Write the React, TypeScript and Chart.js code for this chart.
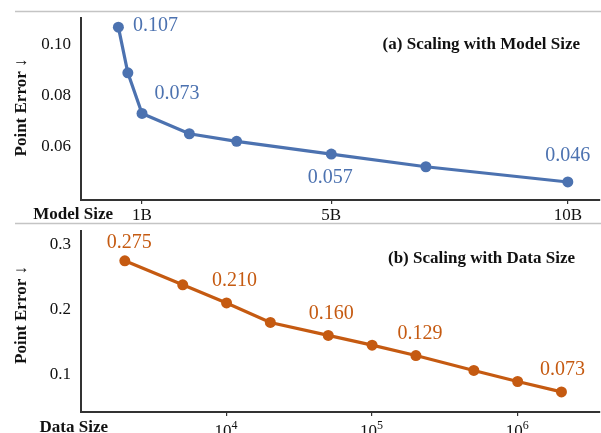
import React, { useEffect, useRef } from "react";
import { Chart, registerables } from "chart.js";
Chart.register(...registerables);

// ---- Data ----
const modelSizes = [0.5, 0.7, 1, 2, 3, 5, 7, 10];
const modelErrors = [0.107, 0.089, 0.073, 0.065, 0.062, 0.057, 0.052, 0.046];
const modelTicks = [1, 5, 10];
const modelTickLabels = ["1B", "5B", "10B"];
const modelErrorTicks = [0.06, 0.08, 0.1];
const modelErrorTickLabels = ["0.06", "0.08", "0.10"];
const modelLabelIdx = [0, 2, 5, 7];

const dataSizes = [2e3, 5e3, 1e4, 2e4, 5e4, 1e5, 2e5, 5e5, 1e6, 2e6];
const dataErrors = [0.275, 0.238, 0.21, 0.18, 0.16, 0.145, 0.129, 0.106, 0.089, 0.073];
const dataTicks = [1e4, 1e5, 1e6];
const dataTickBase = "10";
const dataTickExponents = ["4", "5", "6"];
const dataErrorTicks = [0.1, 0.2, 0.3];
const dataErrorTickLabels = ["0.1", "0.2", "0.3"];
const dataLabelIdx = [0, 2, 4, 6, 9];

// ---- Styles / layout ----
const SERIF = '"Liberation Serif", "Times New Roman", serif';
const BLUE = "#4C72B0";
const ORANGE = "#C55A11";
const AXIS = "#333333";

type Panel = {
  xs: number[];
  ys: number[];
  color: string;
  xType: "linear" | "logarithmic";
  xMin: number;
  xMax: number;
  xTicks: number[];
  xTickLabels: string[] | null;
  xTickExp: string[] | null;
  yMin: number;
  yMax: number;
  yTicks: number[];
  yTickLabels: string[];
  labelIdx: number[];
  labelOffsets: [number, number][];
  title: string;
  titleX: number;
  titleY: number;
  xName: string;
  xNameX: number;
  xNameY: number;
  yTitleY: number;
  sepY: number;
  padTop: number;
  xAxisH: number;
};

const panels: Panel[] = [
  {
    xs: modelSizes,
    ys: modelErrors,
    color: BLUE,
    xType: "linear",
    xMin: -0.29,
    xMax: 10.68,
    xTicks: modelTicks,
    xTickLabels: modelTickLabels,
    xTickExp: null,
    yMin: 0.0389,
    yMax: 0.1106,
    yTicks: modelErrorTicks,
    yTickLabels: modelErrorTickLabels,
    labelIdx: modelLabelIdx,
    labelOffsets: [
      [37, -1.5],
      [35, -20],
      [-1, 23.5],
      [0, -26.5],
    ],
    title: "(a) Scaling with Model Size",
    titleX: 580,
    titleY: 45,
    xName: "Model Size",
    xNameX: 113,
    xNameY: 219,
    yTitleY: 107.5,
    sepY: 11.5,
    padTop: 18,
    xAxisH: 22,
  },
  {
    xs: dataSizes,
    ys: dataErrors,
    color: ORANGE,
    xType: "logarithmic",
    xMin: 1000,
    xMax: 3.68e6,
    xTicks: dataTicks,
    xTickLabels: null,
    xTickExp: dataTickExponents,
    yMin: 0.042,
    yMax: 0.3209,
    yTicks: dataErrorTicks,
    yTickLabels: dataErrorTickLabels,
    labelIdx: dataLabelIdx,
    labelOffsets: [
      [4.5, -18],
      [8, -22.5],
      [3, -21.5],
      [4, -22],
      [1, -22.5],
    ],
    title: "(b) Scaling with Data Size",
    titleX: 575,
    titleY: 36.5,
    xName: "Data Size",
    xNameX: 108,
    xNameY: 210,
    yTitleY: 93,
    sepY: 1.5,
    padTop: 9,
    xAxisH: 21,
  },
];

function makeChart(canvas: HTMLCanvasElement, p: Panel) {
  const deco = {
    id: "deco" + p.title,
    afterDraw(chart: any) {
      const ctx = chart.ctx as CanvasRenderingContext2D;
      const xs = chart.scales.x;
      const ys = chart.scales.y;
      ctx.save();
      // separator line
      ctx.strokeStyle = "#c4c4c4";
      ctx.lineWidth = 1.5;
      ctx.beginPath();
      ctx.moveTo(15, p.sepY);
      ctx.lineTo(601, p.sepY);
      ctx.stroke();
      // title
      ctx.fillStyle = "#111";
      ctx.font = `bold 17px ${SERIF}`;
      ctx.textAlign = "right";
      ctx.textBaseline = "middle";
      ctx.fillText(p.title, p.titleX, p.titleY);
      // x name
      ctx.textBaseline = "alphabetic";
      ctx.fillText(p.xName, p.xNameX, p.xNameY);
      // y title
      ctx.save();
      ctx.translate(22, p.yTitleY);
      ctx.rotate(-Math.PI / 2);
      ctx.textAlign = "center";
      ctx.textBaseline = "middle";
      ctx.fillText("Point Error \u2193", 0, 0);
      ctx.restore();
      // power-of-ten tick labels
      if (p.xTickExp) {
        ctx.fillStyle = "#111";
        ctx.textAlign = "left";
        ctx.textBaseline = "alphabetic";
        const baseY = xs.top + 24;
        p.xTicks.forEach((v, i) => {
          const px = xs.getPixelForValue(v);
          ctx.font = `17px ${SERIF}`;
          const w1 = ctx.measureText(dataTickBase).width;
          ctx.font = `12px ${SERIF}`;
          const w2 = ctx.measureText(p.xTickExp![i]).width;
          const x0 = px - (w1 + w2) / 2 - 0.5;
          ctx.font = `17px ${SERIF}`;
          ctx.fillText(dataTickBase, x0, baseY);
          ctx.font = `12px ${SERIF}`;
          ctx.fillText(p.xTickExp![i], x0 + w1, baseY - 7);
        });
      }
      // value annotations
      ctx.fillStyle = p.color;
      ctx.font = `20px ${SERIF}`;
      ctx.textAlign = "center";
      ctx.textBaseline = "middle";
      p.labelIdx.forEach((i, k) => {
        const px = xs.getPixelForValue(p.xs[i]);
        const py = ys.getPixelForValue(p.ys[i]);
        const [dx, dy] = p.labelOffsets[k];
        ctx.fillText(p.ys[i].toFixed(3), px + dx, py + dy);
      });
      ctx.restore();
    },
  };

  return new Chart(canvas, {
    type: "line",
    data: {
      datasets: [
        {
          data: p.xs.map((x, i) => ({ x, y: p.ys[i] })),
          borderColor: p.color,
          backgroundColor: p.color,
          borderWidth: 3.2,
          pointRadius: 5.5,
          pointHoverRadius: 5.5,
          pointBorderWidth: 0,
          tension: 0,
        },
      ],
    },
    options: {
      responsive: false,
      animation: false,
      devicePixelRatio: 1,
      layout: {
        autoPadding: false,
        padding: { left: 0, right: 1, top: p.padTop, bottom: 0 },
      },
      plugins: { legend: { display: false }, tooltip: { enabled: false } },
      scales: {
        x: {
          type: p.xType,
          min: p.xMin,
          max: p.xMax,
          afterBuildTicks: (s: any) => {
            s.ticks = p.xTicks.map((v) => ({ value: v }));
          },
          afterFit: (s: any) => {
            s.height = p.xAxisH;
            s.paddingLeft = 0;
            s.paddingRight = 0;
            s.paddingTop = 0;
            s.paddingBottom = 0;
          },
          grid: {
            drawOnChartArea: false,
            drawTicks: true,
            tickLength: 4,
            color: AXIS,
            lineWidth: 1.2,
          },
          border: { color: AXIS, width: 2 },
          ticks: {
            display: !!p.xTickLabels,
            autoSkip: false,
            maxRotation: 0,
            padding: 1,
            color: "#111",
            font: { family: SERIF, size: 17 },
            callback: (_v: any, i: number) => (p.xTickLabels ? p.xTickLabels[i] : ""),
          },
        },
        y: {
          type: "linear",
          min: p.yMin,
          max: p.yMax,
          afterBuildTicks: (s: any) => {
            s.ticks = p.yTicks.map((v) => ({ value: v }));
          },
          afterFit: (s: any) => {
            s.width = 81;
            s.paddingLeft = 0;
            s.paddingRight = 0;
            s.paddingTop = 0;
            s.paddingBottom = 0;
          },
          grid: { drawOnChartArea: false, drawTicks: false },
          border: { color: AXIS, width: 2 },
          ticks: {
            padding: 10,
            color: "#111",
            font: { family: SERIF, size: 17 },
            callback: (_v: any, i: number) => p.yTickLabels[i],
          },
        },
      },
    },
    plugins: [deco],
  } as any);
}

export default function App() {
  const topRef = useRef<HTMLCanvasElement>(null);
  const botRef = useRef<HTMLCanvasElement>(null);
  useEffect(() => {
    const c1 = makeChart(topRef.current!, panels[0]);
    const c2 = makeChart(botRef.current!, panels[1]);
    return () => {
      c1.destroy();
      c2.destroy();
    };
  }, []);
  return (
    <div
      style={{
        position: "absolute",
        left: 0,
        top: 0,
        width: 601,
        height: 433,
        overflow: "hidden",
        background: "#fff",
      }}
    >
      <canvas
        ref={topRef}
        width={601}
        height={222}
        style={{ position: "absolute", left: 0, top: 0, width: 601, height: 222 }}
      />
      <canvas
        ref={botRef}
        width={601}
        height={211}
        style={{ position: "absolute", left: 0, top: 222, width: 601, height: 211 }}
      />
    </div>
  );
}
